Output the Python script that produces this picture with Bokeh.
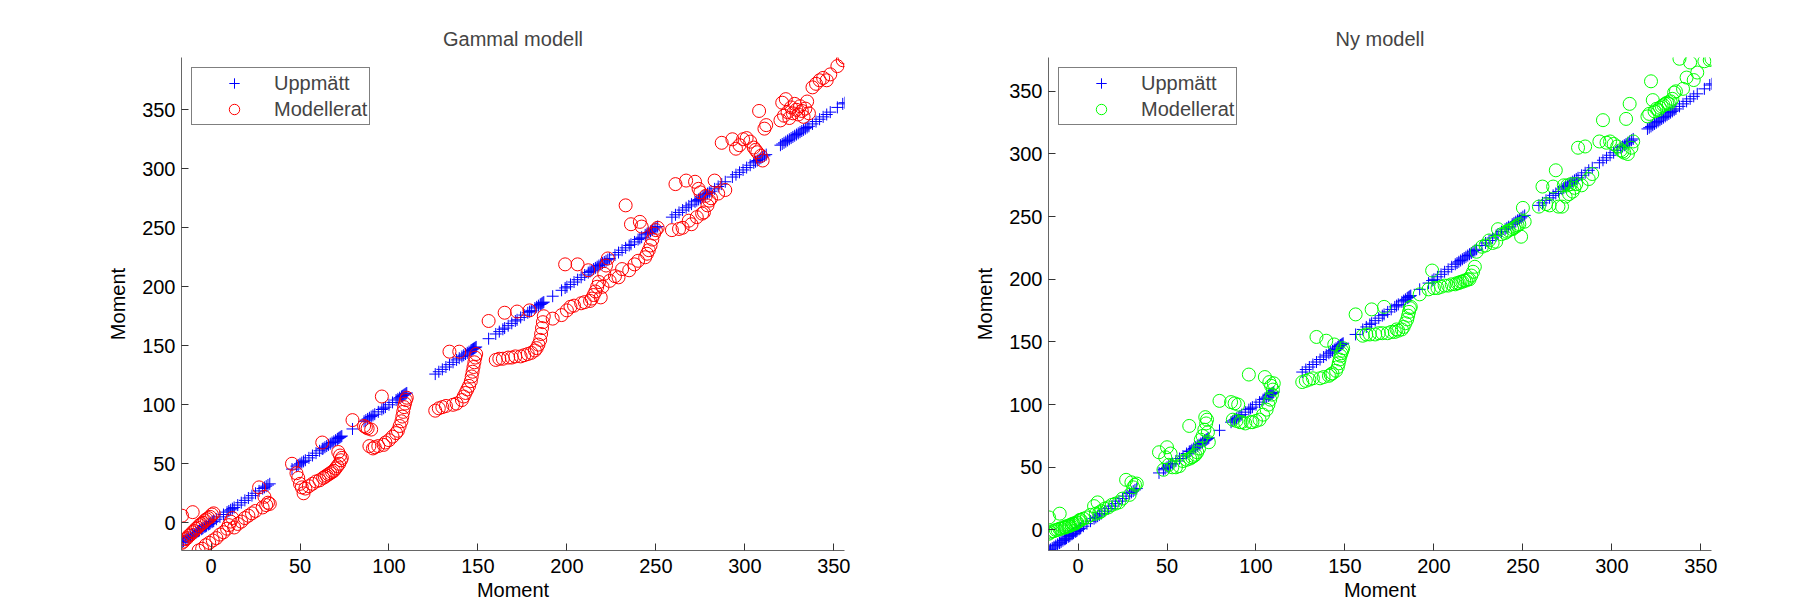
from bokeh.plotting import figure
from bokeh.layouts import row
from bokeh.models import Range1d, FixedTicker, Legend, LegendItem, ColumnDataSource
from bokeh.embed import file_html
from bokeh.resources import INLINE

# Measured moment (Uppmätt), plotted against itself
uppmatt = [
    -16.3, -10.3,
    -16.4, -15.5, -14.5, -13.5, -12.5, -11.5, -10.5, -9.5, -8.5, -7.5, -6.5, -5.5, -4.5, -3.5, -2.5, -1.5, -0.5, 0.5, 1.5,
    -7, -5, -3, -1, 1, 3, 5, 7, 9, 10, 11, 12, 13, 15, 17, 19, 21, 23, 25, 27, 29, 30, 31, 32, 33,
    45.5, 48, 49, 50, 51, 52, 53, 55, 57, 59, 61, 62.5, 63, 64, 65, 66, 67, 68, 69, 70, 71, 71.5, 72, 72.5, 73, 73.5,
    79.5, 86, 87, 88, 89, 90, 91, 92, 94, 96, 97, 98, 100, 102, 104, 105, 106, 107, 107.5, 108, 108.5, 109, 109.5, 110,
    126, 128, 130, 132, 134, 136, 138, 139.5, 141, 142, 143, 144, 145, 146, 146.5, 147, 147.5, 148, 148.5, 149,
    156, 160, 162, 164, 165, 167, 169, 171, 172, 174, 176, 178, 179, 180, 182, 183, 184, 185, 185.5, 186, 186.5, 187,
    192, 197, 199, 200, 202, 204, 206, 208, 210, 212, 213, 214, 215, 216, 217, 218, 219, 220, 221, 222, 223,
    224, 227, 229, 231, 233, 235, 236, 238, 240, 241, 242, 244, 245, 246, 247, 248, 249, 250, 251,
    259, 261, 263, 265, 267, 268.5, 270, 272, 273, 274, 275, 276, 277, 278, 279, 280, 281, 283, 285, 287, 289,
    293, 295, 297, 299, 301, 303, 305, 306, 307, 308, 309, 310, 311, 312,
    320, 321, 322, 323, 324, 325, 326, 327, 328, 329, 330, 331, 332, 333, 334, 335, 336, 338, 340, 342, 344, 346, 348, 352, 355, 356,
]

# Old model (Gammal modell)
gammal = [
    6, 9,
    -17, -16, -14, -13, -11, -10, -8, -7, -5, -4, -2, -1, 0, 2, 3, 4, 5, 7, 8,
    -23.5, -22, -19, -17, -15, -13, -10, -8, -5, -2, 1, 4, -4, -1, 1, 4, 6, 8, 10, 30, 13, 22, 15, 17, 16,
    50, 42, 38, 33, 30, 25, 29, 31, 33, 35, 36, 68, 38, 39, 40, 41, 42, 43, 44, 46, 48, 60, 50, 57, 53, 55,
    87, 82, 81, 80, 65, 79, 63, 64, 65, 107, 66, 68, 70, 73, 76, 78, 82, 86, 90, 94, 98, 101, 104, 106,
    95, 97, 98, 99, 145, 100, 101, 145, 104, 107, 110, 113, 116, 120, 124, 128, 132, 136, 140, 143,
    171, 138, 139, 139, 178, 140, 140, 141, 179, 141, 142, 143, 180, 144, 146, 148, 151, 155, 160, 165, 170, 175,
    173, 176, 219, 180, 183, 184, 219, 186, 187, 214, 188, 190, 193, 196, 200, 204, 191, 200, 211, 218, 224,
    205, 209, 208, 215, 269, 214, 253, 219, 222, 255, 251, 225, 228, 231, 235, 240, 245, 248, 250,
    248, 287, 249, 250, 290, 256, 253, 289, 259, 283, 280, 262, 263, 277, 269, 273, 275, 290, 279, 322, 282,
    325, 317, 320, 325, 326, 323, 318, 316, 314, 349, 311, 307, 334, 337,
    341, 356, 345, 359, 348, 343, 352, 347, 355, 350, 346, 353, 349, 344, 351, 357, 347, 369, 372, 375, 377, 375, 380, 387, 392, 394.3,
]

# New model (Ny modell)
ny = [
    10, 13,
    -3, -2, -1, -1, 0, 0, 1, 1, 2, 2, 3, 3, 4, 4, 5, 5, 6, 7, 8,
    2, 3, 5, 6, 8, 9, 10, 12, 19, 13, 22, 14, 15, 17, 18, 20, 21, 22, 25, 40, 28, 38, 34, 36, 37,
    62, 48, 58, 66, 52, 61, 50, 50, 51, 55, 56, 83, 57, 58, 59, 60, 62, 65, 72, 75, 80, 90, 85, 88, 78, 70,
    103, 102, 88, 101, 87, 100, 86, 86, 85, 124, 86, 86, 87, 88, 92, 122, 96, 100, 118, 104, 115, 108, 112, 117,
    118, 119, 120, 121, 154, 121, 122, 151, 123, 124, 125, 148, 127, 130, 133, 136, 139, 141, 143, 145,
    172, 155, 156, 156, 176, 156, 157, 157, 178, 157, 158, 158, 160, 159, 160, 162, 165, 168, 171, 174, 177, 178,
    188, 192, 207, 193, 193, 194, 195, 195, 196, 196, 197, 197, 198, 198, 199, 199, 200, 200, 203, 206, 210,
    222, 226, 227, 231, 229, 230, 240, 236, 237, 238, 239, 240, 241, 242, 243, 244, 234, 257, 246,
    258, 274, 260, 259, 274, 287, 258, 258, 275, 266, 275, 268, 276, 270, 273, 276, 305, 275, 306, 280, 284,
    310, 327, 309, 310, 308, 306, 303, 302, 301, 328, 300, 340, 305, 310,
    330, 332, 358, 343, 334, 336, 335, 337, 338, 339, 340, 341, 340, 342, 344, 349, 350, 376, 352, 361, 373, 359, 365, 374, 375, 376,
]

titles = ["Gammal modell", "Ny modell"]
legend_labels = ["Uppmätt", "Modellerat"]
axis_label = "Moment"
ticks = [0, 50, 100, 150, 200, 250, 300, 350]

FONT = "Liberation Sans"

src = ColumnDataSource(dict(m=uppmatt, g=gammal, n=ny))


def make(title, col, color, yrange, bl, br):
    p = figure(output_backend="svg", toolbar_location=None,
               frame_width=663, frame_height=493,
               min_border_left=bl, min_border_right=br,
               min_border_top=57, min_border_bottom=55,
               x_range=Range1d(-16.6, 356), y_range=Range1d(*yrange),
               title=title)
    p.outline_line_color = None
    p.grid.visible = False
    p.background_fill_color = "white"
    p.border_fill_color = "white"

    p.title.text_font = FONT
    p.title.text_font_size = "20px"
    p.title.text_font_style = "normal"
    p.title.align = "center"
    p.title.standoff = 16

    for ax in (p.xaxis[0], p.yaxis[0]):
        ax.ticker = FixedTicker(ticks=ticks)
        ax.axis_line_color = "#666666"
        ax.axis_line_width = 1
        ax.major_tick_in = 7
        ax.major_tick_out = 0
        ax.major_tick_line_color = "#333333"
        ax.minor_tick_line_color = None
        ax.major_label_text_font = FONT
        ax.major_label_text_font_size = "20px"
        ax.major_label_text_color = "black"
        ax.axis_label = axis_label
        ax.axis_label_text_font = FONT
        ax.axis_label_text_font_size = "20px"
        ax.axis_label_text_font_style = "normal"
        ax.axis_label_text_color = "black"
    p.xaxis.major_label_standoff = 8
    p.yaxis.major_label_standoff = 6
    p.xaxis.axis_label_standoff = 3
    p.yaxis.axis_label_standoff = 10

    r1 = p.scatter("m", "m", source=src, marker="cross", size=12,
                   line_color="#0000ff", line_width=1)
    r2 = p.scatter("m", col, source=src, marker="circle", size=13,
                   line_color=color, fill_color=None, line_width=1)

    legend = Legend(items=[LegendItem(label=legend_labels[0], renderers=[r1]),
                           LegendItem(label=legend_labels[1], renderers=[r2])],
                    location="top_left", margin=10, padding=2, spacing=0,
                    glyph_width=80, glyph_height=26, label_height=24,
                    label_standoff=0,
                    label_text_font=FONT, label_text_font_size="20px",
                    border_line_color="black", border_line_width=1,
                    background_fill_color="white", background_fill_alpha=1)
    p.add_layout(legend)
    return p


p1 = make(titles[0], "g", "#ff0000", (-23.5, 394.3), 181, 30)
p2 = make(titles[1], "n", "#00ff00", (-16.4, 377), 174, 40)

layout = row(p1, p2)
open("out.html", "w").write(file_html(layout, INLINE))
